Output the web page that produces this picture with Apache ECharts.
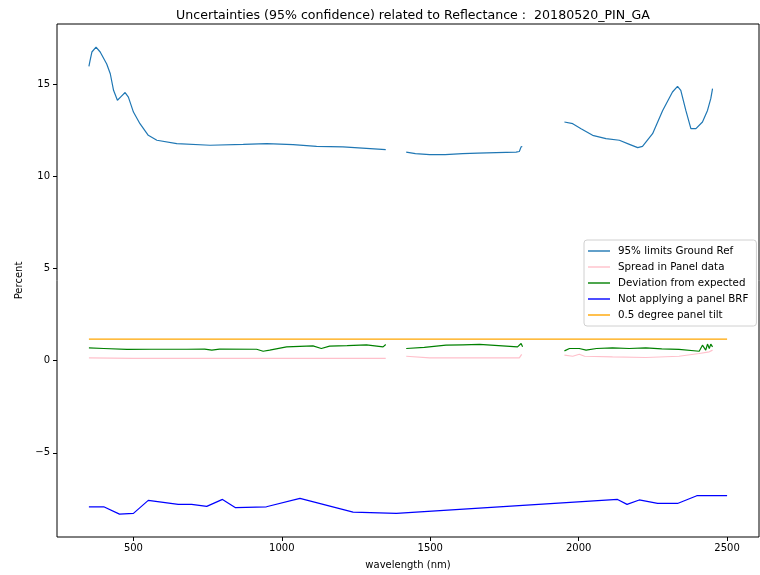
<!DOCTYPE html>
<html>
<head>
<meta charset="utf-8">
<script src="https://cdn.jsdelivr.net/npm/echarts@6/dist/echarts.min.js"></script>
<style>
  html, body { margin: 0; padding: 0; background: #fff; }
  #chart { width: 760px; height: 575px; }
</style>
</head>
<body>
<div id="chart"></div>
<script>
// Tick positions
const xTicks = [500, 1000, 1500, 2000, 2500];
const yTicks = [-5, 0, 5, 10, 15];

// 95% limits Ground Ref, three spectral windows
const groundWl1 = [350, 354, 360, 374, 388, 410, 422, 433, 446, 459, 472, 483, 500, 522, 550, 579, 646, 758, 870, 949, 1038, 1117, 1206, 1350];
const groundVal1 = [15.97, 16.3, 16.75, 17.02, 16.75, 16.1, 15.57, 14.67, 14.13, 14.34, 14.55, 14.3, 13.49, 12.86, 12.23, 11.96, 11.78, 11.69, 11.74, 11.78, 11.72, 11.63, 11.6, 11.45];
const groundWl2 = [1419, 1450, 1498, 1550, 1609, 1660, 1722, 1789, 1800, 1806, 1810];
const groundVal2 = [11.32, 11.24, 11.18, 11.18, 11.23, 11.26, 11.29, 11.32, 11.35, 11.6, 11.62];
const groundWl3 = [1952, 1980, 2008, 2047, 2092, 2137, 2171, 2199, 2215, 2249, 2283, 2316, 2333, 2344, 2361, 2378, 2395, 2417, 2434, 2445, 2451];
const groundVal3 = [12.95, 12.86, 12.59, 12.23, 12.05, 11.96, 11.74, 11.56, 11.63, 12.32, 13.58, 14.58, 14.89, 14.67, 13.58, 12.59, 12.59, 12.95, 13.58, 14.22, 14.76];

// Spread in Panel data
const spreadWl1 = [350, 500, 700, 900, 1100, 1350];
const spreadVal1 = [0.15, 0.12, 0.12, 0.12, 0.13, 0.12];
const spreadWl2 = [1419, 1498, 1600, 1700, 1800, 1808];
const spreadVal2 = [0.24, 0.15, 0.15, 0.15, 0.15, 0.34];
const spreadWl3 = [1952, 1980, 2002, 2020, 2114, 2226, 2338, 2406, 2440, 2451];
const spreadVal3 = [0.3, 0.24, 0.35, 0.24, 0.2, 0.17, 0.24, 0.39, 0.48, 0.57];

// Deviation from expected
const devWl1 = [350, 400, 478, 560, 680, 740, 764, 790, 915, 937, 959, 1016, 1060, 1105, 1133, 1161, 1220, 1285, 1341, 1350];
const devVal1 = [0.69, 0.66, 0.61, 0.62, 0.62, 0.63, 0.57, 0.63, 0.62, 0.51, 0.57, 0.75, 0.78, 0.8, 0.66, 0.79, 0.82, 0.86, 0.75, 0.88];
const devWl2 = [1419, 1480, 1553, 1610, 1666, 1730, 1794, 1806, 1811];
const devVal2 = [0.66, 0.72, 0.84, 0.86, 0.88, 0.82, 0.75, 0.93, 0.75];
const devWl3 = [1952, 1969, 2002, 2025, 2060, 2114, 2170, 2226, 2280, 2338, 2406, 2417, 2428, 2434, 2440, 2445, 2451];
const devVal3 = [0.53, 0.66, 0.66, 0.57, 0.66, 0.69, 0.66, 0.69, 0.64, 0.61, 0.51, 0.84, 0.57, 0.9, 0.66, 0.9, 0.75];

// Not applying a panel BRF
const brfWl = [350, 400, 453, 500, 550, 651, 696, 747, 800, 844, 948, 1061, 1240, 1386, 2131, 2163, 2204, 2266, 2333, 2398, 2500];
const brfVal = [-7.93, -7.93, -8.33, -8.29, -7.58, -7.8, -7.8, -7.91, -7.53, -7.98, -7.93, -7.47, -8.22, -8.29, -7.53, -7.8, -7.56, -7.75, -7.75, -7.33, -7.33];

// 0.5 degree panel tilt
const tiltWl = [350, 2500];
const tiltVal = [1.17, 1.17];

// Join segments into one series, breaking the line between windows
function joinSegments(pairs) {
  const out = [];
  pairs.forEach(([wl, val], i) => {
    if (i > 0) out.push([wl[0] - 1, '-']);
    wl.forEach((w, k) => out.push([w, val[k]]));
  });
  return out;
}
function zipPairs(wl, val) { return wl.map((w, k) => [w, val[k]]); }

const FONT = 'DejaVu Sans';
const LINE_ICON = 'path://M0,0L22,0L22,1.4L0,1.4Z';

function lineSeries(name, color, data, z) {
  return {
    name, type: 'line', data, symbol: 'none', showSymbol: false, connectNulls: false,
    lineStyle: { color, width: 1.2 }, itemStyle: { color },
    z, animation: false
  };
}

const chart = echarts.init(document.getElementById('chart'), null, { renderer: 'canvas' });
chart.setOption({
  animation: false,
  backgroundColor: '#fff',
  title: {
    text: 'Uncertainties (95% confidence) related to Reflectance :  20180520_PIN_GA',
    left: 408, top: 4, textAlign: 'center',
    textStyle: { fontFamily: FONT, fontSize: 12.6, fontWeight: 'normal', color: '#000' }
  },
  grid: {
    left: 57, right: 1, top: 24, bottom: 36.5,
    show: true, borderColor: '#000', borderWidth: 1, backgroundColor: 'transparent'
  },
  legend: {
    orient: 'vertical', left: 584, top: 240,
    backgroundColor: '#fff', borderColor: '#d0d0d0', borderWidth: 1, borderRadius: 3,
    padding: [5, 8, 5, 4], itemWidth: 22, itemHeight: 1.4, itemGap: 4,
    icon: LINE_ICON,
    textStyle: { fontFamily: FONT, fontSize: 10.3, color: '#000', padding: [0, 0, 0, 3], lineHeight: 12 },
    data: ['95% limits Ground Ref', 'Spread in Panel data', 'Deviation from expected', 'Not applying a panel BRF', '0.5 degree panel tilt']
  },
  xAxis: {
    type: 'value', min: 242.5, max: 2607.5,
    name: 'wavelength (nm)', nameLocation: 'middle', nameGap: 23,
    nameTextStyle: { fontFamily: FONT, fontSize: 10, color: '#000' },
    axisLine: { show: false, onZero: false },
    splitLine: { show: false },
    axisTick: { show: true, length: 4, inside: false, customValues: xTicks, lineStyle: { color: '#000' } },
    axisLabel: { customValues: xTicks, fontFamily: FONT, fontSize: 10, color: '#000', margin: 6, formatter: v => String(v) }
  },
  yAxis: {
    type: 'value', min: -9.57, max: 18.27,
    name: 'Percent', nameLocation: 'middle', nameGap: 30, nameRotate: 90,
    nameTextStyle: { fontFamily: FONT, fontSize: 10, color: '#000' },
    axisLine: { show: false, onZero: false },
    splitLine: { show: false },
    axisTick: { show: true, length: 4, inside: false, customValues: yTicks, lineStyle: { color: '#000' } },
    axisLabel: {
      customValues: yTicks, fontFamily: FONT, fontSize: 10, color: '#000', margin: 7,
      formatter: v => (v < 0 ? '\u2212' + Math.abs(v) : String(v))
    }
  },
  series: [
    lineSeries('95% limits Ground Ref', '#1f77b4',
      joinSegments([[groundWl1, groundVal1], [groundWl2, groundVal2], [groundWl3, groundVal3]]), 2),
    lineSeries('Spread in Panel data', '#ffc0cb',
      joinSegments([[spreadWl1, spreadVal1], [spreadWl2, spreadVal2], [spreadWl3, spreadVal3]]), 3),
    lineSeries('Deviation from expected', '#008000',
      joinSegments([[devWl1, devVal1], [devWl2, devVal2], [devWl3, devVal3]]), 4),
    lineSeries('Not applying a panel BRF', '#0000ff', zipPairs(brfWl, brfVal), 5),
    lineSeries('0.5 degree panel tilt', '#ffa500', zipPairs(tiltWl, tiltVal), 6)
  ]
});
</script>
</body>
</html>
